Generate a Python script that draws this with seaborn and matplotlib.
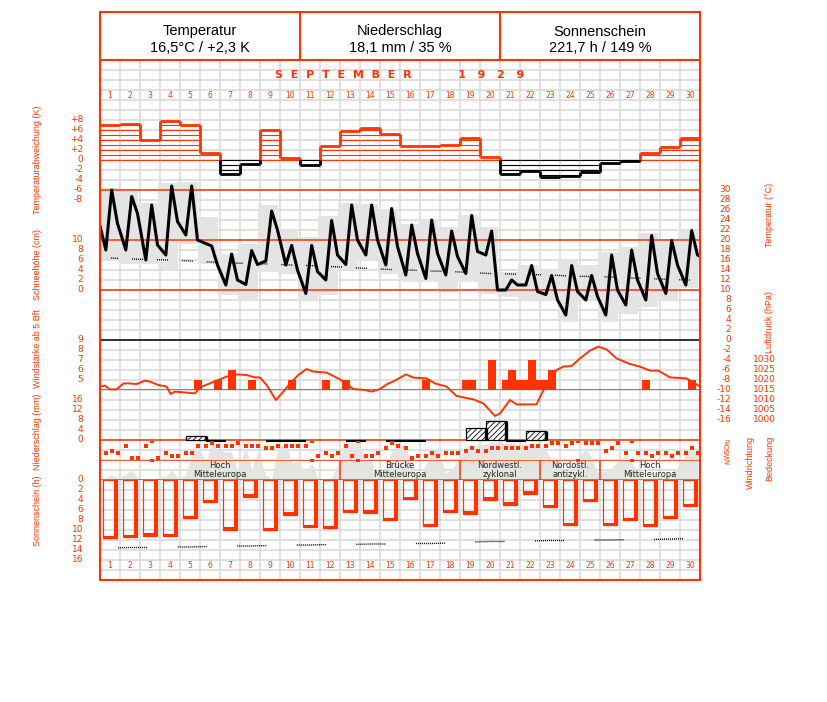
import numpy as np
import pandas as pd
import matplotlib
matplotlib.use("Agg")
import matplotlib.pyplot as plt
from matplotlib.patches import Rectangle
import seaborn as sns

# ---------------------------------------------------------------
# Data: September 1929
# ---------------------------------------------------------------
days = list(range(1, 31))

header_title = ["Temperatur", "Niederschlag", "Sonnenschein"]
header_value = ["16,5°C / +2,3 K", "18,1 mm / 35 %", "221,7 h / 149 %"]

# temperature (°C) at the 7, 14 and 21 h observations
temp_07 = [18.0, 18.0, 16.0, 17.0, 21.0, 19.3, 11.0, 11.1, 15.8, 15.0,
           9.3, 12.0, 15.1, 17.0, 15.0, 13.0, 12.3, 13.0, 13.3, 17.0,
           10.0, 11.0, 9.1, 5.0, 8.0, 5.0, 7.0, 8.0, 9.3, 11.0]
temp_14 = [30.0, 28.7, 27.0, 30.8, 30.8, 18.8, 17.2, 17.9, 25.8, 18.9,
           18.9, 23.9, 27.0, 27.0, 26.3, 23.0, 24.0, 21.8, 24.9, 21.8,
           12.0, 14.9, 12.9, 14.9, 12.9, 17.0, 18.0, 20.9, 19.9, 21.9]
temp_21 = [23.3, 25.3, 19.0, 23.7, 20.0, 15.0, 12.0, 15.1, 22.0, 14.0,
           13.7, 17.0, 20.0, 20.0, 18.7, 17.3, 17.3, 16.7, 17.7, 10.0,
           11.0, 9.7, 8.0, 9.7, 8.7, 10.0, 12.0, 13.3, 15.0, 17.0]
temp_start = 22.8
temp_end = 16.7

temp_max = [30.5, 29.9, 27.5, 31.5, 31.7, 24.7, 17.3, 19.3, 27.0, 22.2,
            20.7, 24.8, 27.5, 27.3, 26.3, 23.3, 24.0, 22.7, 25.0, 22.7,
            13.7, 15.0, 14.0, 16.0, 15.1, 17.7, 18.7, 21.5, 20.0, 22.2]
temp_min = [16.0, 15.3, 15.3, 14.3, 19.3, 15.3, 9.0, 8.0, 13.7, 13.3,
            8.0, 9.0, 14.0, 16.0, 13.3, 11.7, 11.7, 9.7, 11.7, 9.3,
            8.7, 8.0, 8.0, 3.7, 8.0, 3.7, 5.3, 6.7, 8.0, 10.4]
temp_clim = [16.4, 16.2, 16.1, 16.0, 15.8, 15.6, 15.4, 15.3, 15.2, 15.0,
             14.9, 14.7, 14.5, 14.3, 14.1, 14.0, 13.8, 13.7, 13.5, 13.3,
             13.2, 13.1, 13.0, 12.8, 12.7, 12.6, 12.4, 12.3, 12.1, 12.0]

# daily deviation from the long-term mean (K)
anomaly = [7.0, 7.2, 4.1, 7.8, 7.0, 1.5, -2.7, -0.7, 6.1, 0.5,
           -0.9, 2.8, 5.9, 6.5, 5.3, 2.8, 2.9, 3.1, 4.5, 0.7,
           -2.7, -2.2, -3.3, -3.1, -2.4, -0.5, -0.1, 1.5, 2.7, 4.5]

# wind force >= 5 Bft
wind_day = [5, 6, 7, 8, 10, 12, 13, 17, 19, 19, 20, 21, 21, 21, 22, 22, 22, 23, 23, 28, 30]
wind_hour = [21, 21, 14, 14, 14, 7, 7, 7, 7, 14, 14, 7, 14, 21, 7, 14, 21, 7, 14, 7, 14]
wind_bft = [5, 5, 6, 5, 5, 5, 5, 5, 5, 5, 7, 5, 6, 5, 5, 7, 5, 5, 6, 5, 5]

# air pressure (hPa), time in days since 1 Sep 00 h
pres_time = [0.0, 0.25, 0.5, 0.83, 1.17, 1.42, 1.83, 2.25, 2.5, 2.92,
             3.33, 3.53, 3.75, 4.33, 4.75, 5.0, 6.33, 6.83, 7.33, 7.75,
             8.0, 8.33, 8.8, 9.17, 9.5, 9.92, 10.33, 10.67, 11.33, 12.0,
             12.67, 13.25, 13.58, 14.0, 14.33, 14.75, 15.3, 15.67, 16.33, 16.75,
             17.33, 17.83, 18.67, 19.17, 19.75, 20.0, 20.5, 20.83, 21.83, 22.17,
             22.83, 23.17, 23.58, 24.0, 24.5, 24.92, 25.33, 25.83, 26.5, 27.0,
             27.5, 27.92, 28.5, 29.33, 29.75, 30.0]
pres_hpa = [1016.7, 1017.2, 1015.3, 1015.3, 1018.3, 1018.3, 1018.0, 1019.7, 1019.2, 1017.5,
            1016.7, 1013.0, 1014.2, 1013.7, 1013.3, 1016.3, 1021.7, 1022.8, 1022.5, 1021.3,
            1021.3, 1017.5, 1010.0, 1014.2, 1018.3, 1022.5, 1025.5, 1024.2, 1023.7, 1020.3,
            1015.5, 1015.0, 1014.2, 1015.5, 1017.8, 1019.7, 1022.8, 1021.2, 1020.8, 1018.3,
            1016.7, 1012.0, 1010.3, 1008.3, 1002.0, 1003.3, 1010.0, 1007.8, 1007.8, 1015.0,
            1025.0, 1026.7, 1027.0, 1030.8, 1034.7, 1036.7, 1035.3, 1030.8, 1028.0, 1026.7,
            1024.7, 1024.7, 1021.3, 1020.8, 1018.3, 1016.7]

# precipitation (mm), measured 7 h -> 7 h, starting on the given day
precip_day = [5, 19, 20, 22]
precip_mm = [1.8, 4.9, 7.7, 3.7]
trace_day = [6, 9, 10, 13, 15, 16, 21]

# wind direction (degrees) at 7, 14, 21 h
wdir_07 = [210, 90, 90, 210, 210, 90, 90, 90, 125, 90, 90, 210, 90, 270, 125,
           125, 270, 210, 180, 180, 125, 125, 90, 90, 30, 180, 210, 210, 210, 210]
wdir_14 = [180, 305, 0, 270, 210, 30, 90, 90, 125, 90, 0, 270, 270, 270, 30,
           300, 210, 210, 125, 125, 125, 90, 30, 30, 30, 125, 0, 270, 270, 125]
wdir_21 = [210, 305, 305, 270, 90, 90, 30, 90, 90, 90, 270, 210, 0, 210, 90,
           270, 270, 210, 180, 125, 125, 90, 30, 0, 30, 30, 210, 210, 210, 210]

# cloud cover (octas) at 7, 14, 21 h
cloud_07 = [0.5, 1.2, 0.0, 0.8, 1.0, 3.4, 5.6, 6.6, 1.0, 7.6, 1.8, 0.0, 7.4, 5.0, 2.6,
            7.0, 3.0, 1.4, 6.6, 7.2, 7.4, 7.0, 6.0, 1.8, 6.6, 1.8, 5.0, 0.2, 1.0, 5.0]
cloud_14 = [1.0, 2.0, 0.2, 2.0, 5.0, 7.6, 5.6, 2.0, 0.2, 3.4, 3.4, 0.6, 7.6, 3.6, 5.6,
            3.0, 5.6, 2.0, 6.8, 7.6, 7.4, 7.0, 4.0, 3.0, 4.4, 2.4, 3.4, 0.6, 1.6, 7.0]
cloud_21 = [0.5, 0.5, 0.5, 0.4, 7.4, 6.0, 1.8, 5.6, 6.0, 3.6, 0.6, 3.0, 7.0, 0.6, 6.8,
            0.4, 6.6, 4.0, 7.0, 7.6, 7.2, 7.0, 3.0, 4.0, 1.6, 3.6, 1.4, 0.8, 2.6, 6.0]

# sunshine duration (h) and astronomically possible duration (h)
sun_h = [11.6, 11.4, 11.1, 11.2, 7.6, 4.4, 9.9, 3.3, 10.0, 6.9,
         9.4, 9.6, 6.4, 6.5, 8.0, 3.8, 9.2, 6.4, 6.7, 3.9,
         4.9, 2.7, 5.4, 9.0, 4.2, 9.0, 8.0, 9.2, 7.6, 5.2]
sun_max = [13.6, 13.5, 13.5, 13.4, 13.4, 13.3, 13.2, 13.2, 13.1, 13.0,
           13.0, 12.9, 12.9, 12.8, 12.8, 12.7, 12.7, 12.6, 12.4, 12.3,
           12.3, 12.2, 12.1, 12.1, 12.0, 12.0, 11.9, 11.9, 11.8, 11.7]

# large-scale weather types
wtype_start = [1, 13, 19, 23, 26]
wtype_end = [12, 18, 22, 25, 30]
wtype_line1 = ["Hoch", "Brücke", "Nordwestl.", "Nordostl.", "Hoch"]
wtype_line2 = ["Mitteleuropa", "Mitteleuropa", "zyklonal", "antizykl.", "Mitteleuropa"]

# ---------------------------------------------------------------
# Style
# ---------------------------------------------------------------
sns.set_style("white")
plt.rcParams["font.family"] = ["Liberation Sans", "DejaVu Sans"]
plt.rcParams["hatch.linewidth"] = 0.6

RED = "#ff3300"
GRID = "#dadada"
FILL = "#e4e4e4"
W, H = 827, 702
L, R = 100, 700

fig = plt.figure(figsize=(W / 100, H / 100), dpi=100)


def band(top, bottom, lo, hi, z=1):
    # a transparent axes that spans the chart width between two pixel rows
    ax = fig.add_axes([L / W, 1 - bottom / H, (R - L) / W, (bottom - top) / H], zorder=z)
    ax.set_xlim(0, 30)
    ax.set_ylim(lo, hi)
    ax.set_axis_off()
    ax.patch.set_visible(False)
    return ax


def fx(px):
    return (px - L) / (R - L)


def ylabels(ax, values, labels, xpix, ha="right", size=6.5, **kw):
    tr = ax.get_yaxis_transform()
    for v, s in zip(values, labels):
        ax.text(fx(xpix), v, s, transform=tr, ha=ha, va="center",
                color=RED, fontsize=size, family="DejaVu Sans", clip_on=False, **kw)


# ---------------- background grid / day numbers ----------------
g = band(60, 580, 580, 60, z=0)
g.vlines(np.arange(1, 30), 60, 580, color=GRID, lw=1.2)
g.hlines(np.arange(70, 580, 10), 0, 30, color=GRID, lw=1.2)
for d in days:
    g.text(d - 0.5, 96, str(d), ha="center", va="center", color=RED,
           fontsize=5.5, family="DejaVu Sans")
    g.text(d - 0.5, 566, str(d), ha="center", va="center", color=RED,
           fontsize=5.5, family="DejaVu Sans")
g.text(15, 75.5, "S  E  P  T  E  M  B  E  R            1   9   2   9", ha="center",
       va="center", color=RED, fontsize=8, fontweight="bold", family="DejaVu Sans")

# ---------------- temperature ----------------
tax = band(180, 430, -18, 32, z=1)
x0 = np.arange(30)
tax.bar(x0 - 0.1, np.subtract(temp_max, temp_min), bottom=temp_min, width=1,
        align="edge", color=FILL, lw=0, zorder=1)
tax.hlines([30, 20, 10], 0, 30, color=RED, lw=1.1, zorder=2)
tax.hlines(0, 0, 30, color="black", lw=1.1, zorder=2)
dots_t = (0.72, 0.72) * 5 + (0.72, 10.0)
tax.plot(x0 + 0.5, temp_clim, color="black", lw=1.0, ls=(2.0, dots_t), zorder=3)

obs_t, obs_v = [0.0], [temp_start]
for i in range(30):
    for h, src in ((7, temp_07), (14, temp_14), (21, temp_21)):
        obs_t.append(i + h / 24)
        obs_v.append(src[i])
obs_t.append(30.0)
obs_v.append(temp_end)
temp_df = pd.DataFrame({"t": obs_t, "T": obs_v})
sns.lineplot(data=temp_df, x="t", y="T", ax=tax, color="black", lw=2.2,
             sort=False, estimator=None, zorder=4)
tax.set_axis_off()
ylabels(tax, range(30, -17, -2), [str(v) for v in range(30, -17, -2)], 731)

# ---------------- temperature anomaly ----------------
aax = band(120, 200, -8, 8, z=2)
for i, v in enumerate(anomaly):
    col = RED if v > 0 else "black"
    n = int(np.floor(abs(v)))
    levels = np.sign(v) * np.arange(0, n + 1)
    aax.hlines(levels, i, i + 1, color=col, lw=0.8)
    aax.hlines(v, i, i + 1, color=col, lw=2.0)
for i in range(1, 30):
    a, b = anomaly[i - 1], anomaly[i]
    if a * b >= 0:
        aax.vlines(i, a, b, color=RED if a + b > 0 else "black", lw=2.0)
    else:
        aax.vlines(i, 0, max(a, b), color=RED, lw=2.0)
        aax.vlines(i, min(a, b), 0, color="black", lw=2.0)
ylabels(aax, range(8, -9, -2), ["+8", "+6", "+4", "+2", "0", "-2", "-4", "-6", "-8"], 83)

# snow depth scale (no snow this month)
sax = band(240, 290, 0, 10, z=2)
ylabels(sax, range(10, -1, -2), [str(v) for v in range(10, -1, -2)], 83)

# ---------------- wind force and pressure ----------------
wax = band(340, 390, 4, 9, z=2)
wx = [d - 1 + h / 24 for d, h in zip(wind_day, wind_hour)]
wax.bar(wx, np.subtract(wind_bft, 4), bottom=4, width=0.4, color=RED, lw=0)
wax.hlines(4, 0, 30, color=RED, lw=1.1)
ylabels(wax, range(9, 4, -1), [str(v) for v in range(9, 4, -1)], 83)

pax = band(340, 420, 1000, 1040, z=3)
pres_df = pd.DataFrame({"t": pres_time, "p": pres_hpa})
sns.lineplot(data=pres_df, x="t", y="p", ax=pax, color=RED, lw=1.4,
             sort=False, estimator=None)
pax.set_axis_off()
ylabels(pax, range(1030, 999, -5), [str(v) for v in range(1030, 999, -5)], 776)

# ---------------- precipitation ----------------
nax = band(400, 444, -1.6, 16, z=2)
nax.hlines(0, 0, 30, color=RED, lw=1.1, zorder=1)
px_ = [d - 1 + 7 / 24 for d in precip_day]
nax.bar(px_, precip_mm, width=1, align="edge", facecolor="white", edgecolor="black",
        hatch="//////", lw=0.9, zorder=2)
nax.vlines(np.add(px_, 1), 0, precip_mm, color="black", lw=2.4, zorder=3)
tx_ = np.array([d - 1 + 7 / 24 for d in trace_day])
nax.hlines(np.full(len(tx_), -0.45), tx_, tx_ + 1, color="black", lw=1.5, zorder=2)
ylabels(nax, range(16, -1, -4), [str(v) for v in range(16, -1, -4)], 83)

# ---------------- cloud cover ----------------
cax = band(440, 480, 0, 8, z=2)
c_t, c_v = [], []
for i in range(30):
    for h, src in ((7, cloud_07), (14, cloud_14), (21, cloud_21)):
        c_t.append(i + h / 24)
        c_v.append(src[i])
cax.fill_between(c_t, 0, c_v, color=FILL, lw=0)

# ---------------- wind direction ----------------
dax = band(441, 461, 360, 0, z=3)
d_t, d_v = [], []
for i in range(30):
    for h, src in ((7, wdir_07), (14, wdir_14), (21, wdir_21)):
        d_t.append(i + h / 24)
        d_v.append(src[i])
        if src[i] == 0:
            d_t.append(i + h / 24)
            d_v.append(360)
sns.scatterplot(x=d_t, y=d_v, ax=dax, color=RED, marker="s", s=5, linewidth=0)
dax.set_axis_off()
tr = dax.get_yaxis_transform()
for v, s in zip([0, 90, 180, 270, 360], ["N", "O", "S", "W", "N"]):
    dax.text(fx(728), v, s, transform=tr, ha="center", va="center", rotation=90,
             color=RED, fontsize=5, family="DejaVu Sans")

# ---------------- weather types ----------------
yax = band(460, 480, 1, 0, z=4)
yax.hlines([0, 1], 0, 30, color=RED, lw=1.1)
yax.vlines([s - 1 for s in wtype_start[1:]], 0, 1, color=RED, lw=1.1)
for s, e, t1, t2 in zip(wtype_start, wtype_end, wtype_line1, wtype_line2):
    xm = (s - 1 + e) / 2
    yax.text(xm, 0.3, t1, ha="center", va="center", fontsize=6, family="DejaVu Sans")
    yax.text(xm, 0.72, t2, ha="center", va="center", fontsize=6, family="DejaVu Sans")

# ---------------- sunshine ----------------
uax = band(480, 560, 16, 0, z=3)
xc = x0 + 0.5
uax.bar(xc, sun_h, width=0.667, fill=False, edgecolor=RED, lw=0.9)
uax.vlines(xc + 0.333 - 0.07, 0, sun_h, color=RED, lw=2.2)
uax.hlines(np.array(sun_h) - 0.28, xc - 0.333, xc + 0.333, color=RED, lw=2.2)
dots_s = (0.72, 0.72) * 14 + (0.72, 22.0)
uax.plot(xc, sun_max, color="black", lw=1.0, ls=(37.0, dots_s))
ylabels(uax, range(0, 17, 2), [str(v) for v in range(0, 17, 2)], 83)

# ---------------- frame, header, axis titles ----------------
pix = fig.add_axes([0, 0, 1, 1], zorder=10)
pix.set_xlim(0, W)
pix.set_ylim(H, 0)
pix.set_axis_off()
pix.patch.set_visible(False)
pix.add_patch(Rectangle((L, 12), R - L, 568, fill=False, ec=RED, lw=1.5))
pix.hlines(60, L, R, color=RED, lw=1.5)
pix.vlines([300, 500], 12, 60, color=RED, lw=1.5)
for k, (t1, t2) in enumerate(zip(header_title, header_value)):
    xm = L + 100 + 200 * k
    pix.text(xm, 31.5, t1, ha="center", va="center", fontsize=10.5, color="black")
    pix.text(xm, 48, t2, ha="center", va="center", fontsize=10.5, color="black")

titles = [
    ("Temperaturabweichung (K)", 37, 160),
    ("Schneehöhe (cm)", 37, 264),
    ("Windstärke ab 5 Bft", 37, 349),
    ("Niederschlag (mm)", 37, 432),
    ("Sonnenschein (h)", 37, 511),
    ("Temperatur (°C)", 770, 215),
    ("Luftdruck (hPa)", 770, 322),
    ("Windrichtung", 750, 462),
    ("Bedeckung", 770, 458),
]
for s, x, y in titles:
    pix.text(x, y, s, rotation=90, ha="center", va="center", color=RED,
             fontsize=6.5, family="Liberation Sans")

fig.savefig("out.png", dpi=100)
